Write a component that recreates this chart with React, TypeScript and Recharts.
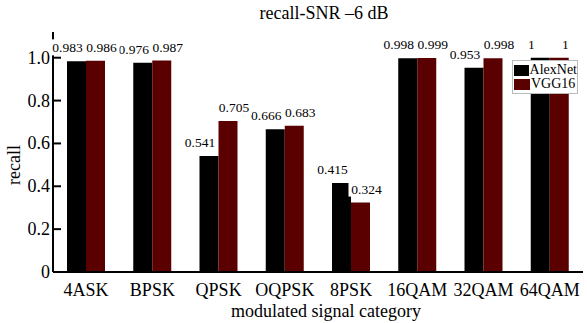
import React from "react";
import {
  BarChart,
  Bar,
  XAxis,
  YAxis,
  Legend,
  LabelList,
} from "recharts";

const categories = ["4ASK", "BPSK", "QPSK", "OQPSK", "8PSK", "16QAM", "32QAM", "64QAM"];
const alexNet = [0.983, 0.976, 0.541, 0.666, 0.415, 0.998, 0.953, 1];
const vgg16 = [0.986, 0.987, 0.705, 0.683, 0.324, 0.999, 0.998, 1];
const yTicks = [0, 0.2, 0.4, 0.6, 0.8, 1.0];

const data = categories.map((name, i) => ({
  name,
  AlexNet: alexNet[i],
  VGG16: vgg16[i],
}));

const FONT = "'Liberation Serif', 'Times New Roman', Times, serif";
const RED = "#5a0000";

function YTick(props: any) {
  const { x, y, payload } = props;
  const v = payload.value;
  return (
    <g>
      <line x1={x + 3} x2={x + 11} y1={y} y2={y} stroke="#000" strokeWidth={2} />
      <text x={x} y={y + 6} textAnchor="end" fontSize={18} fontFamily={FONT} fill="#000">
        {v === 0 ? "0" : v.toFixed(1)}
      </text>
    </g>
  );
}

function makeLabel(shift: number) {
  return function ValueLabel(props: any) {
    const { x, y, width, value } = props;
    const txt = String(value);
    const w = txt.length * 6.6 + 3;
    const cx = x + width / 2 + shift;
    return (
      <g>
        <rect x={cx - w / 2} y={y - 22} width={w} height={16} fill="#fff" />
        <text x={cx} y={y - 9} textAnchor="middle" fontSize={13.5} fontFamily={FONT} fill="#000">
          {txt}
        </text>
      </g>
    );
  };
}

const BlackLabel = makeLabel(-9);
const RedLabel = makeLabel(6);

function LegendBox() {
  const row = (color: string, label: string) => (
    <div style={{ display: "flex", alignItems: "center", height: 14 }}>
      <span style={{ width: 16, height: 11, background: color, marginRight: 1 }} />
      <span style={{ fontSize: 14, lineHeight: "14px" }}>{label}</span>
    </div>
  );
  return (
    <div
      style={{
        background: "#fff",
        border: "1px solid #bbb",
        padding: "2px 0 2px 1px",
        fontFamily: FONT,
        width: 66,
        boxSizing: "border-box",
      }}
    >
      {row("#000", "AlexNet")}
      {row(RED, "VGG16")}
    </div>
  );
}

export default function App() {
  return (
    <div style={{ position: "absolute", left: 0, top: 0, width: 587, height: 323, background: "#fff" }}>
      <BarChart
        width={587}
        height={323}
        data={data}
        margin={{ top: 32, right: 4, bottom: 0, left: 13 }}
        barGap={0}
        barSize={19}
      >
        <XAxis
          dataKey="name"
          stroke="#000"
          strokeWidth={2}
          tickLine={false}
          tickMargin={5}
          height={51}
          interval={0}
          tick={{ fontSize: 18, fontFamily: FONT, fill: "#000" }}
        />
        <XAxis xAxisId="top" dataKey="name" orientation="top" height={0} stroke="#bbb" tick={false} tickLine={false} />
        <YAxis
          domain={[0, 1.12]}
          ticks={yTicks}
          width={40}
          stroke="#000"
          strokeWidth={2}
          tickLine={false}
          tickSize={0}
          tickMargin={3}
          tick={<YTick />}
          allowDataOverflow
        />
        <YAxis yAxisId="right" orientation="right" domain={[0, 1.12]} width={0} stroke="#bbb" tick={false} tickLine={false} />
        <Bar dataKey="AlexNet" fill="#000" isAnimationActive={false}>
          <LabelList dataKey="AlexNet" content={<BlackLabel />} />
        </Bar>
        <Bar dataKey="VGG16" fill={RED} isAnimationActive={false}>
          <LabelList dataKey="VGG16" content={<RedLabel />} />
        </Bar>
        <Legend
          content={<LegendBox />}
          layout="horizontal"
          verticalAlign="middle"
          align="center"
          wrapperStyle={{ position: "absolute", left: 512, top: 60, width: 68 }}
        />
      </BarChart>
      <div
        style={{
          position: "absolute",
          left: 0,
          width: 648,
          top: 3,
          textAlign: "center",
          fontFamily: FONT,
          fontSize: 18,
        }}
      >
        recall-SNR –6 dB
      </div>
      <div
        style={{
          position: "absolute",
          left: 0,
          width: 652,
          top: 300,
          textAlign: "center",
          fontFamily: FONT,
          fontSize: 18,
          lineHeight: "22px",
        }}
      >
        modulated signal category
      </div>
      <div
        style={{
          position: "absolute",
          left: 14,
          top: 165,
          transform: "translate(-50%, -50%) rotate(-90deg)",
          fontFamily: FONT,
          fontSize: 18,
        }}
      >
        recall
      </div>
    </div>
  );
}
